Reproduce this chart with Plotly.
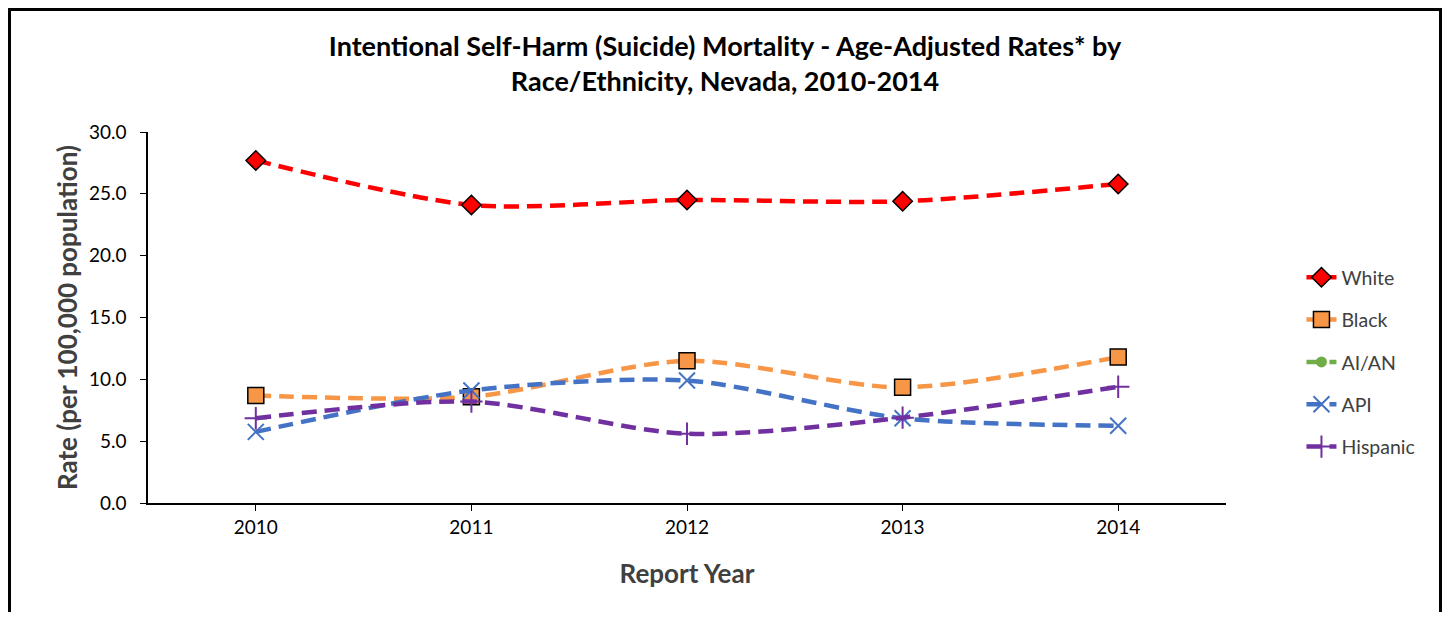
import plotly.graph_objects as go

# 연도 및 인종별 연령조정 자살률 (10만 명당)
years = ["2010", "2011", "2012", "2013", "2014"]
white = [27.7, 24.1, 24.5, 24.4, 25.8]
black = [8.7, 8.6, 11.5, 9.35, 11.8]
aian = [None, None, None, None, None]
api = [5.75, 9.1, 9.9, 6.85, 6.25]
hispanic = [6.85, 8.2, 5.6, 6.9, 9.4]

series = [
    ("White", white, "#FF0000", dict(symbol="diamond", size=15, color="#FF0000",
                                     line=dict(color="black", width=1.5))),
    ("Black", black, "#F79646", dict(symbol="square", size=16, color="#F79646",
                                     line=dict(color="black", width=1.5))),
    ("AI/AN", aian, "#70AD47", dict(symbol="circle", size=11, color="#70AD47")),
    ("API", api, "#4472C4", dict(symbol="x-thin", size=16, color="#4472C4",
                                 line=dict(color="#4472C4", width=2))),
    ("Hispanic", hispanic, "#7030A0", dict(symbol="cross-thin", size=16, color="#7030A0",
                                           line=dict(color="#7030A0", width=2))),
]

W, H = 1434, 604
L, T = 140, 124
PW, PH = 1078, 371

fig = go.Figure()

for name, values, color, marker in series:
    fig.add_trace(go.Scatter(
        x=years,
        y=values,
        mode="lines+markers",
        name=name,
        legendgroup=name,
        line=dict(color=color, width=4.5, dash="15px,8px", shape="spline", smoothing=0.8),
        marker=marker,
    ))

fig.update_layout(
    width=W,
    height=H,
    margin=dict(l=L, r=W - L - PW, t=T, b=H - T - PH),
    paper_bgcolor="white",
    plot_bgcolor="white",
    font=dict(family="Lato, 'Noto Sans', sans-serif", size=19, color="black"),
    title=dict(
        text="Intentional Self-Harm (Suicide) Mortality - Age-Adjusted Rates* by<br>Race/Ethnicity, Nevada, 2010-2014",
        x=0.5, xref="container", xanchor="center",
        y=0.92, yref="container", yanchor="top",
        font=dict(size=27, color="black", family="Lato, 'Noto Sans', sans-serif", weight="bold"),
    ),
    legend=dict(
        x=1.07, xanchor="left",
        y=0.38, yanchor="middle",
        traceorder="grouped",
        tracegroupgap=14,
        font=dict(size=19.5, color="#404040"),
        bgcolor="rgba(0,0,0,0)",
    ),
    showlegend=True,
)

fig.update_xaxes(
    type="category",
    range=[-0.5, 4.5],
    showline=True, linecolor="black", linewidth=1.5,
    ticks="outside", ticklen=6, tickcolor="black",
    showgrid=False, zeroline=False,
    tickfont=dict(size=19, color="black"),
    title=dict(text="<b>Report Year</b>", font=dict(size=26, color="#404040"), standoff=28),
)

fig.update_yaxes(
    range=[0, 30],
    dtick=5,
    tickformat=".1f",
    showline=True, linecolor="black", linewidth=1.5,
    ticks="outside", ticklen=6, tickcolor="black",
    ticklabelstandoff=10,
    showgrid=False, zeroline=False,
    tickfont=dict(size=19, color="black"),
    title=dict(text="<b>Rate (per 100,000 population)</b>", font=dict(size=26, color="#404040"), standoff=4),
)

# 차트 외곽 테두리
fig.add_shape(
    type="rect", xref="paper", yref="paper",
    x0=(1.5 - L) / PW, x1=(W - 1.5 - L) / PW,
    y0=(T + PH - 700) / PH, y1=(T + PH - 1.5) / PH,
    line=dict(color="black", width=3),
    fillcolor="rgba(0,0,0,0)",
    layer="below",
)

fig.write_html("out.html")
